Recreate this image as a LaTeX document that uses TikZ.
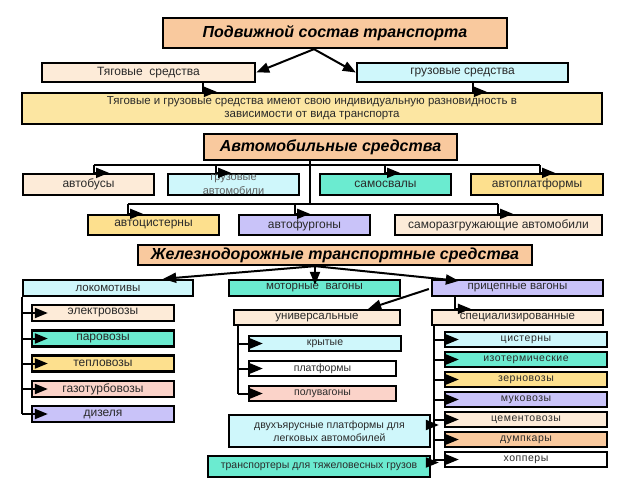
\documentclass[tikz,border=0pt]{standalone}
\usepackage{fontspec}
\setmainfont{Liberation Sans}
\newfontfamily\spacedfont[LetterSpace=5]{Liberation Sans}
\usetikzlibrary{arrows.meta,calc}
\definecolor{cPeach}{HTML}{F9C99E}
\definecolor{cLPeach}{HTML}{FDEBD8}
\definecolor{cCyan}{HTML}{CFF7FB}
\definecolor{cTurq}{HTML}{6BEBD0}
\definecolor{cYel}{HTML}{FDE08E}
\definecolor{cWide}{HTML}{FCE6A2}
\definecolor{cLav}{HTML}{C9C3F9}
\definecolor{cPink}{HTML}{FBD3C9}
\definecolor{cTxt}{HTML}{2A2A2A}
\begin{document}
\begin{tikzpicture}[x=1pt,y=-1pt,
  box/.style={draw=black, line width=2.3pt, inner sep=0pt, text=cTxt, align=center},
  wh/.style 2 args={minimum width=#1pt, minimum height=#2pt},
  ttl/.style={box, fill=cPeach, text=black, font=\fontsize{16}{17}\selectfont\bfseries\itshape},
  arr/.style={line width=2pt, -{Triangle[length=13pt,width=10pt]}},
  ln/.style={line width=2pt},
  fA/.style={font=\fontsize{12}{13}\selectfont},
  fB/.style={font=\fontsize{11.5}{13}\selectfont},
  fC/.style={font=\fontsize{10.5}{12.5}\selectfont},
  fD/.style={font=\spacedfont\fontsize{10.5}{11}\selectfont}]
\fill[white] (0,0) rectangle (640,480);

% top level
\node[ttl, wh={344}{30}] (top) at (335,33) {Подвижной состав транспорта};
\node[box, fA, wh={213}{19}, fill=cLPeach] (tyag) at (148.5,72.5) {Тяговые\ \ средства};
\node[box, fA, wh={211}{19}, fill=cCyan] (gruz) at (462.5,72.5) {грузовые средства};
\node[box, fB, wh={580}{31}, fill=cWide] (wide) at (312,108.5) {Тяговые и грузовые средства имеют свою индивидуальную разновидность в\\зависимости от вида транспорта};
\coordinate (to) at ($(top.south)+(-21,0)$);
\draw[arr] (to) -- (tyag.east);
\draw[arr] (to) -- (gruz.west);
\draw[arr] ($(tyag.south west)+(162,0)$) |- ($(wide.north west)+(196,0)$);
\draw[arr] ($(gruz.south west)+(117,0)$) |- ($(wide.north west)+(466,0)$);

% automobile
\node[ttl, wh={253}{26}] (auto) at (330.5,147) {Автомобильные средства};
\node[box, fA, wh={131}{21}, fill=cLPeach] (bus) at (88.5,184.5) {автобусы};
\node[box, wh={131}{21}, fill=cCyan, text=cTxt!75, font=\fontsize{11}{14}\selectfont] (gavt) at (233.5,184.5) {грузовые\\автомобили};
\node[box, fA, wh={131}{21}, fill=cTurq] (samo) at (385.5,184.5) {самосвалы};
\node[box, fA, wh={132}{21}, fill=cYel] (plat) at (537,184.5) {автоплатформы};
\node[box, fA, wh={131}{20}, fill=cYel] (cist) at (153.5,225) {автоцистерны};
\node[box, fA, wh={131}{20}, fill=cLav] (furg) at (304.5,225) {автофургоны};
\node[box, fA, wh={207}{20}, fill=cLPeach] (samor) at (498.5,225) {саморазгружающие автомобили};

\coordinate (a1) at (310,165);
\coordinate (a2) at (310,204);
\draw[ln] (auto.south -| a1) -- (a2);
\coordinate (h1a) at (94,165);
\coordinate (h1b) at (216,165);
\coordinate (h1c) at (385,165);
\coordinate (h1d) at (540,165);
\coordinate (h2a) at (128,204);
\coordinate (h2b) at (295,204);
\coordinate (h2c) at (498,204);
\draw[ln] (h1a) -- (h1d);
\draw[ln] (h2a) -- (h2c);
\draw[arr] (h1a) |- ($(bus.north -| h1a)+(15,0)$);
\draw[arr] (h1b) |- ($(gavt.north -| h1b)+(15,0)$);
\draw[arr] (h1c) |- ($(samo.north -| h1c)+(15,0)$);
\draw[arr] (h1d) |- ($(plat.north -| h1d)+(15,0)$);
\draw[arr] (h2a) |- ($(cist.north -| h2a)+(15,0)$);
\draw[arr] (h2b) |- ($(furg.north -| h2b)+(15,0)$);
\draw[arr] (h2c) |- ($(samor.north -| h2c)+(15,0)$);

% railway
\node[ttl, wh={394}{20}] (zh) at (335,255) {Железнодорожные транспортные средства};
\node[box, fB, wh={170}{16}, fill=cCyan] (lok) at (108,288) {локомотивы};
\node[box, fB, wh={171}{16}, fill=cTurq] (mot) at (314.5,288) {моторные\ \ вагоны};
\node[box, fB, wh={171}{16}, fill=cLav] (pric) at (517.5,288) {прицепные вагоны};
\coordinate (zo) at ($(zh.south)+(-20,0)$);
\draw[arr] (zo) -- ($(lok.north east)+(-31,0)$);
\draw[arr] (zo) -- ($(zo |- mot.north)+(0,6)$);
\draw[arr] (zo) -- ($(pric.north west)+(28,2)$);

\node[box, fB, wh={166}{15}, fill=cLPeach] (univ) at (317,317.5) {универсальные};
\node[box, fB, wh={171}{15}, fill=cLPeach] (spec) at (517.5,317.5) {специализированные};
\draw[arr] ($(pric.west)+(-2,1)$) -- ($(univ.north east)+(-33,0)$);
\draw[arr] ($(pric.south west)+(24,0)$) |- ($(spec.north west)+(40,0)$);

% locomotives
\node[box, fA, wh={142}{16}, fill=cLPeach] (d1) at (103,313) {электровозы};
\node[box, fA, wh={142}{16}, fill=cTurq] (d2) at (103,338.5) {паровозы};
\node[box, fA, wh={142}{16}, fill=cYel] (d3) at (103,363.5) {тепловозы};
\node[box, fA, wh={142}{16}, fill=cPink] (d4) at (103,389) {газотурбовозы};
\node[box, fA, wh={142}{16}, fill=cLav] (d5) at (103,414) {дизеля};
\draw[ln] (lok.south west) -- (lok.south west |- d5.west);
\foreach \n in {d1,d2,d3,d4,d5}
  \draw[arr] (lok.south west |- \n.west) -- ($(\n.west)+(17,0)$);

% universal
\node[box, fC, wh={152}{15}, fill=cCyan] (u1) at (325,343.5) {крытые};
\node[box, fC, wh={147}{15}, fill=white] (u2) at (322.5,368.5) {платформы};
\node[box, fC, wh={147}{15}, fill=cPink] (u3) at (322.5,393.5) {полувагоны};
\coordinate (ut) at ($(univ.south west)+(5,0)$);
\draw[ln] (ut) -- (ut |- u3.west);
\foreach \n in {u1,u2,u3}
  \draw[arr] (ut |- \n.west) -- ($(\n.west)+(15,0)$);

% specialized
\node[box, fD, wh={162}{15}, fill=cCyan] (s1) at (526,339.5) {цистерны};
\node[box, fD, wh={162}{15}, fill=cTurq] (s2) at (526,359.5) {изотермические};
\node[box, fD, wh={162}{15}, fill=cYel] (s3) at (526,379.5) {зерновозы};
\node[box, fD, wh={162}{15}, fill=cLav] (s4) at (526,399.5) {муковозы};
\node[box, fD, wh={162}{15}, fill=cLPeach] (s5) at (526,419.5) {цементовозы};
\node[box, fD, wh={162}{15}, fill=cPeach] (s6) at (526,439.5) {думпкары};
\node[box, fD, wh={162}{15}, fill=white] (s7) at (526,459.5) {хопперы};
\coordinate (st) at ($(spec.south west)+(3,0)$);
\draw[ln] (st) -- ($(st |- s7.west)+(0,3)$);
\foreach \n in {s1,s2,s3,s4,s5,s6,s7}
  \draw[arr] (st |- \n.west) -- ($(\n.west)+(15,0)$);

\node[box, fC, wh={201}{32}, fill=cCyan] (dv) at (329.5,431) {двухъярусные платформы для\\легковых автомобилей};
\node[box, fC, wh={222}{21}, fill=cTurq] (tr) at (319,466.5) {транспортеры для тяжеловесных грузов};
\draw[arr] ($(dv.east)+(0,-6)$) -- ($(st |- dv.east)+(5,-6)$);
\draw[arr] ($(tr.east)+(0,-4)$) -- ($(st |- tr.east)+(5,-4)$);
\end{tikzpicture}
\end{document}
